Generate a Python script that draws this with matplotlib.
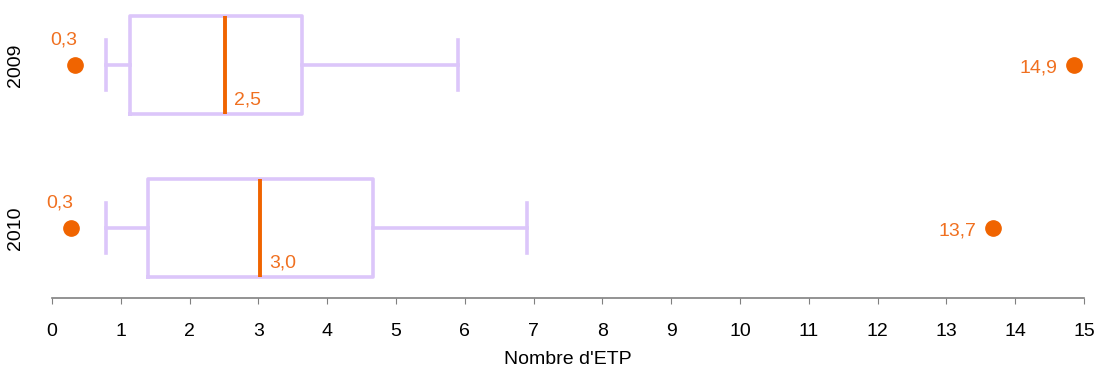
import matplotlib

matplotlib.use("Agg")
import matplotlib.pyplot as plt

plt.rcParams["font.family"] = ["Liberation Sans", "DejaVu Sans"]

# box statistics (Nombre d'ETP)
years = ["2009", "2010"]
ypos = [2, 1]
whisker_lo = [0.78, 0.78]
q1 = [1.13, 1.39]
median = [2.52, 3.03]
q3 = [3.64, 4.67]
whisker_hi = [5.90, 6.90]
min_val = [0.33, 0.28]
max_val = [14.86, 13.68]

LAV = "#DCC6FA"
ORANGE = "#F06400"
TXT = "#F07020"
FS = 14


def fr(v):
    return f"{v:.1f}".replace(".", ",")


fig = plt.figure(figsize=(11.04, 3.85), dpi=100)
ax = fig.add_axes([52 / 1104, 87 / 385, (1084 - 52) / 1104, 298 / 385])

stats = [
    dict(whislo=whisker_lo[i], q1=q1[i], med=median[i], q3=q3[i], whishi=whisker_hi[i], fliers=[])
    for i in range(len(years))
]
ax.bxp(
    stats,
    positions=ypos,
    widths=0.6,
    vert=False,
    showfliers=False,
    boxprops=dict(color=LAV, lw=2.6),
    whiskerprops=dict(color=LAV, lw=2.6),
    capprops=dict(color=LAV, lw=2.6),
    medianprops=dict(color=ORANGE, lw=2.8),
    capwidths=0.31,
)

ax.plot(min_val, ypos, "o", color=ORANGE, ms=11, ls="none")
ax.plot(max_val, ypos, "o", color=ORANGE, ms=11, ls="none")

for i in range(len(years)):
    ax.annotate(fr(min_val[i]), (min_val[i], ypos[i]), xytext=(-8, 18), textcoords="offset points",
                ha="center", va="center", color=TXT, fontsize=FS)
    ax.annotate(fr(median[i]), (median[i], ypos[i]), xytext=(6, -25), textcoords="offset points",
                ha="left", va="center", color=TXT, fontsize=FS)
    ax.annotate(fr(max_val[i]), (max_val[i], ypos[i]), xytext=(-12, -2), textcoords="offset points",
                ha="right", va="center", color=TXT, fontsize=FS)

ax.set_xlim(0, 15)
ax.set_ylim(0.57, 2.4)
ax.set_xticks(range(0, 16))
ax.set_yticks(ypos)
ax.set_yticklabels(years, rotation=90, va="center", fontsize=FS)
ax.tick_params(axis="y", length=0, pad=20)
ax.tick_params(axis="x", length=4, color="#808080", labelsize=FS, pad=14)
for s in ["top", "right", "left"]:
    ax.spines[s].set_visible(False)
ax.spines["bottom"].set_color("#808080")
ax.spines["bottom"].set_linewidth(1.2)
ax.set_xlabel("Nombre d'ETP", fontsize=FS, labelpad=8)

fig.savefig("out.png", dpi=100)
